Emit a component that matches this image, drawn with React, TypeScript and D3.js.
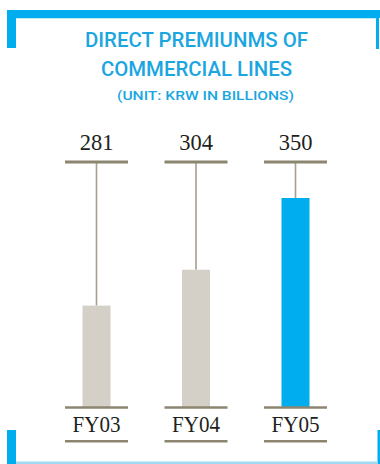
import React from "react";
import * as d3 from "d3";

const categories = ["FY03", "FY04", "FY05"];
const values = [281, 304, 350];
const valueLabels = ["281", "304", "350"];
const highlight = [false, false, true];
const titleLines = ["DIRECT PREMIUNMS OF", "COMMERCIAL LINES"];
const unitLabel = "(UNIT: KRW IN BILLIONS)";

const W = 380;
const H = 464;
const BLUE = "#00aeef";
const GRAY_BAR = "#d4d0c8";
const TICK = "#8c8670";
const STEM = "#a89f8a";
const TITLE = "#1ba6df";

export default function App() {
  const x = d3.scaleBand<string>().domain(categories).range([46.75, 345.25]).padding(0);
  const y = d3.scaleLinear().domain([216, 350]).range([407, 198]);
  const barW = 28;
  const tickW = 63;
  const topTickY = 162;
  const baseY = 407.5;
  const lowLineY = 441.3;

  return (
    <svg
      width={W}
      height={H}
      style={{ position: "absolute", left: 0, top: 0, background: "#fff" }}
    >
      {/* frame top */}
      <rect x={7} y={10} width={373} height={8} fill={BLUE} />
      <rect x={16} y={18} width={360} height={1} fill="#bfe8f8" />
      <rect x={7} y={10} width={9} height={38} fill={BLUE} />
      <rect x={376} y={10} width={3} height={39} fill={BLUE} />
      {/* frame bottom */}
      <rect x={7} y={430} width={9} height={34} fill={BLUE} />
      <rect x={377.5} y={430} width={2.5} height={34} fill={BLUE} />
      <rect x={16} y={461.5} width={362} height={2.5} fill="#9fdaf2" />

      {/* title */}
      <g fill={TITLE} fontFamily="Roboto, 'Noto Sans', sans-serif" fontWeight={500} textAnchor="middle">
        <text x={196.5} y={47} fontSize={20.5} textLength={223} lengthAdjust="spacingAndGlyphs">
          {titleLines[0]}
        </text>
        <text x={196.5} y={76} fontSize={20.5} textLength={191} lengthAdjust="spacingAndGlyphs">
          {titleLines[1]}
        </text>
        <text x={205.5} y={100} fontSize={13.5} textLength={177} lengthAdjust="spacingAndGlyphs">
          {unitLabel}
        </text>
      </g>

      {categories.map((c, i) => {
        const cx = (x(c) as number) + x.bandwidth() / 2;
        const top = y(values[i]);
        return (
          <g key={c}>
            <text
              x={cx}
              y={150}
              textAnchor="middle"
              fontFamily="'Liberation Serif', 'DejaVu Serif', serif"
              fontSize={22.5}
              fill="#231f20"
            >
              {valueLabels[i]}
            </text>
            <line x1={cx} x2={cx} y1={topTickY} y2={top} stroke={STEM} strokeWidth={1.6} />
            <rect
              x={cx - barW / 2}
              y={top}
              width={barW}
              height={baseY - top}
              fill={highlight[i] ? BLUE : GRAY_BAR}
            />
            <line x1={cx - tickW / 2} x2={cx + tickW / 2} y1={topTickY} y2={topTickY} stroke={TICK} strokeWidth={3} />
            <line x1={cx - tickW / 2} x2={cx + tickW / 2} y1={baseY} y2={baseY} stroke={TICK} strokeWidth={2.5} />
            <text
              x={cx}
              y={432}
              textAnchor="middle"
              fontFamily="'Liberation Serif', 'DejaVu Serif', serif"
              fontSize={22.5}
              textLength={48}
              lengthAdjust="spacingAndGlyphs"
              fill="#231f20"
            >
              {c}
            </text>
            <line x1={cx - tickW / 2} x2={cx + tickW / 2} y1={lowLineY} y2={lowLineY} stroke={TICK} strokeWidth={2.5} />
          </g>
        );
      })}
    </svg>
  );
}
